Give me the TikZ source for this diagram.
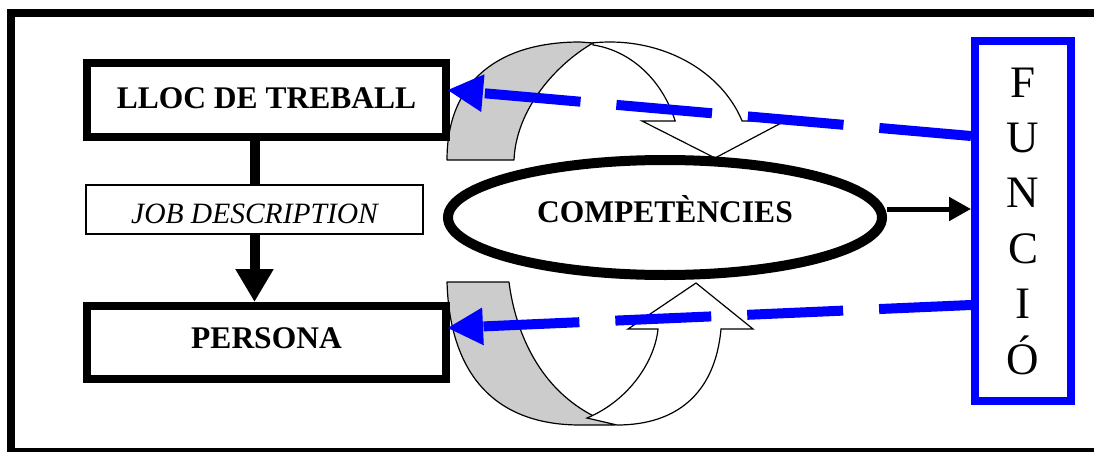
\documentclass[tikz,border=0pt]{standalone}
\usepackage{fontspec}
\setmainfont{Liberation Serif}
\usetikzlibrary{arrows.meta,shapes.geometric}
\definecolor{funcblue}{RGB}{0,0,255}
\definecolor{ribbongray}{RGB}{204,204,204}
\tikzset{
  heavybox/.style={draw, rectangle, line width=8pt, minimum width=359pt, inner sep=0pt},
  boldlabel/.style={font=\fontsize{31.5}{36}\selectfont\bfseries},
  ribbonback/.style={fill=ribbongray, draw=black, line width=1.2pt, line join=round},
  ribbonfront/.style={fill=white, draw=black, line width=1.2pt, line join=miter},
  flow/.style={line width=10pt, -{Triangle[length=33pt,width=36pt]}},
  outflow/.style={line width=5pt, -{Triangle[length=22pt,width=23pt]}},
  feedback/.style={color=funcblue, line width=10pt, dash pattern=on 96pt off 36pt,
    dash phase=4pt, -{Triangle[length=36pt,width=35pt]}},
}
\begin{document}
\begin{tikzpicture}[x=1pt,y=-1pt]
\useasboundingbox (0,0) rectangle (1094,452);
\clip (0,0) rectangle (1094,452);

% outer frame
\draw[line width=7.5pt] (11,13) rectangle (1100,451.5);

% upper curved ribbon arrow (turning down onto the ellipse)
\filldraw[ribbonback] (447,160) .. controls (447,80) and (500,42) .. (580,42) -- (593,43)
  .. controls (555,65) and (516,110) .. (514,160) -- cycle;
\filldraw[ribbonfront] plot[domain=97:19.3, samples=40] ({610+140*cos(\x)},{160-118*sin(\x)})
  -- (785,121) -- (715,158) -- (642,121) -- (675,121)
  -- plot[domain=19.65:82.6, samples=40] ({580+101*cos(\x)},{160-116*sin(\x)}) -- cycle;

% lower curved ribbon arrow (turning up onto the ellipse)
\filldraw[ribbonback] (447,282) -- (509,282) .. controls (515,330) and (540,400) .. (615,425)
  -- (580,425) .. controls (500,425) and (450,380) .. (447,282) -- cycle;
\filldraw[ribbonfront] (617,425) .. controls (675,425) and (715,395) .. (721,329)
  -- (753,329) -- (696,283) -- (628,329) -- (658,329)
  .. controls (655,360) and (630,400) .. (587,418) -- cycle;

% nodes
\node[heavybox, minimum height=74pt, boldlabel, text height=16pt, text depth=0pt]
  (lloc) at (266.5,100) {LLOC DE TREBALL};
\node[draw, rectangle, line width=1.5pt, minimum width=337pt, minimum height=49pt, inner sep=0pt,
  font=\fontsize{29.5}{34}\selectfont\itshape, text height=28pt, text depth=0pt]
  (job) at (254.5,209.5) {JOB DESCRIPTION};
\node[heavybox, minimum height=73pt, boldlabel, text height=11pt, text depth=0pt]
  (persona) at (266.5,342.5) {PERSONA};
\node[ellipse, draw, fill=white, line width=10pt, minimum width=434pt, minimum height=115pt,
  inner sep=0pt, boldlabel, text height=9pt, text depth=0pt]
  (comp) at (665,217.5) {COMPETÈNCIES};
\node[draw=funcblue, rectangle, line width=8pt, minimum width=96pt, minimum height=360pt,
  inner sep=0pt, align=center, font=\fontsize{45}{55.4}\selectfont]
  (func) at (1023,221) {F\\U\\N\\C\\I\\Ó};

% connectors
\draw[line width=10pt] (job.north |- lloc.south) -- (job.north);
\draw[flow] (job.south) -- (job.south |- persona.north);

\coordinate (compout) at ([yshift=8.5pt]comp.east);
\draw[outflow] (compout) -- (compout -| func.west);

\coordinate (fbtop) at ([yshift=85pt]func.west);
\coordinate (fbbot) at ([yshift=-84pt]func.west);
\coordinate (lloctip) at ([xshift=-3pt,yshift=10pt]lloc.east);
\coordinate (perstip) at ([xshift=-3pt,yshift=14.5pt]persona.east);
\draw[feedback] (fbtop) -- (lloctip);
\draw[feedback] (fbbot) -- (perstip);
\end{tikzpicture}
\end{document}
